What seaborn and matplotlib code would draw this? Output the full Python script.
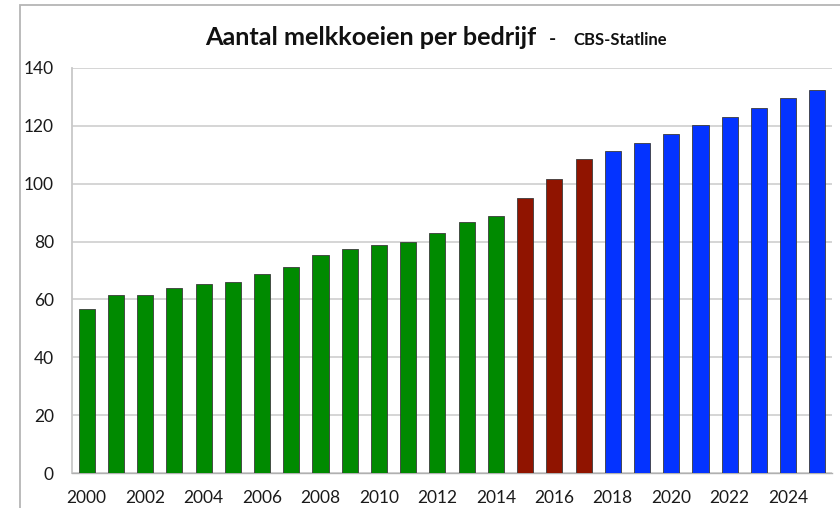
import matplotlib
matplotlib.use("Agg")
import matplotlib.pyplot as plt
from matplotlib.patches import Rectangle
import seaborn as sns
import pandas as pd
import numpy as np

years = list(range(2000, 2026))
values = [56.6, 61.4, 61.7, 64.1, 65.3, 65.9, 68.9, 71.1, 75.4, 77.6,
          78.9, 80.0, 82.9, 86.9, 89.0, 95.1, 101.5, 108.5, 111.4, 114.2,
          117.1, 120.2, 123.2, 126.3, 129.6, 132.4]
periods = ["hist"] * 15 + ["recent"] * 3 + ["prognose"] * 8
palette = {"hist": "#008a00", "recent": "#901400", "prognose": "#0433ff"}

df = pd.DataFrame({"jaar": [str(y) for y in years], "koeien": values, "periode": periods})

sns.set_theme(style="white")
plt.rcParams["font.family"] = ["Lato", "DejaVu Sans"]

fig = plt.figure(figsize=(8.4, 5.08), dpi=100)
ax = fig.add_axes([72 / 840, 1 - 473 / 508, (832 - 72) / 840, (473 - 68) / 508])

# outer chart frame
fig.patches.append(Rectangle((20 / 840, -0.1), 1.0, 1 - 5 / 508 + 0.1, transform=fig.transFigure,
                             fill=False, edgecolor="#b5b5b5", linewidth=1.3, zorder=0))

sns.barplot(data=df, x="jaar", y="koeien", hue="periode", palette=palette, dodge=False,
            saturation=1, width=0.55, edgecolor="#3a3a3a", linewidth=0.6, legend=False,
            ax=ax, zorder=3)

ax.set_xlim(-0.5, len(years) - 0.5)
ax.set_ylim(0, 140)
ax.set_yticks(np.arange(0, 141, 20))
ax.yaxis.grid(True, color="#d2d2d2", linewidth=1.3, zorder=0)
ax.xaxis.grid(False)
ax.set_axisbelow(True)

ax.set_xticks(range(0, len(years), 2))
ax.set_xticklabels([str(y) for y in years[::2]])
ax.set_xticks(np.arange(-0.5, len(years), 1), minor=True)
ax.tick_params(axis="x", which="major", length=0, pad=12, labelsize=12.5, labelcolor="#1a1a1a")
ax.tick_params(axis="x", which="minor", length=4, width=1, color="#b0b0b0", direction="out")
ax.tick_params(axis="y", length=5, width=1.3, color="#d2d2d2", pad=8, labelsize=12.5, labelcolor="#1a1a1a")
ax.set_xlabel("")
ax.set_ylabel("")

for s in ["top", "right"]:
    ax.spines[s].set_visible(False)
ax.spines["left"].set_color("#c8c8c8")
ax.spines["left"].set_linewidth(1.3)
ax.spines["bottom"].set_color("#b0b0b0")
ax.spines["bottom"].set_linewidth(1.0)

base = 1 - 45 / 508
fig.text(205 / 840, base, "Aantal melkkoeien per bedrijf", fontsize=18.2, fontweight="bold",
         color="#111111", ha="left", va="baseline")
fig.text(549 / 840, base, "-", fontsize=14, fontweight="bold", color="#111111",
         ha="left", va="baseline")
fig.text(573 / 840, base, "CBS-Statline", fontsize=12, fontweight="bold", color="#111111",
         ha="left", va="baseline")

fig.savefig("out.png", dpi=100, facecolor="white")
